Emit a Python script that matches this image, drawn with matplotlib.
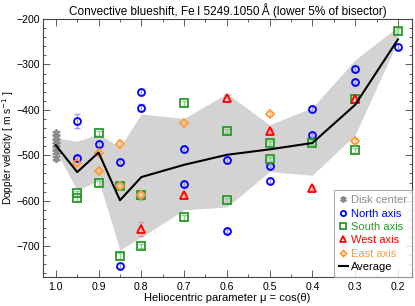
import matplotlib
matplotlib.use("Agg")
import matplotlib.pyplot as plt
from matplotlib.ticker import MultipleLocator
import numpy as np

plt.rcParams['font.family'] = ['Liberation Sans', 'DejaVu Sans']

# Disk center
mu_dc = [1.0, 1.0, 1.0, 1.0, 1.0, 1.0, 1.0]
v_dc = [-452, -460, -468, -476, -484, -492, -507]
e_dc = [6, 6, 6, 6, 6, 6, 6]

# North axis
mu_n = [0.95, 0.95, 0.9, 0.85, 0.85, 0.8, 0.8, 0.7, 0.7, 0.6, 0.6, 0.5, 0.5, 0.4, 0.4, 0.3, 0.3, 0.2]
v_n = [-424, -507, -475, -514, -743, -361, -395, -487, -564, -511, -667, -524, -556, -398, -455, -309, -339, -261]
e_n = [15, 6, 6, 6, 6, 6, 8, 5, 6, 5, 5, 5, 5, 6, 5, 5, 5, 5]

# South axis
mu_s = [0.95, 0.95, 0.9, 0.9, 0.85, 0.85, 0.8, 0.8, 0.7, 0.7, 0.6, 0.6, 0.5, 0.5, 0.4, 0.3, 0.3, 0.2]
v_s = [-584, -595, -452, -562, -567, -722, -588, -700, -386, -637, -447, -599, -474, -509, -472, -377, -489, -226]
e_s = [6, 6, 6, 6, 7, 7, 10, 5, 5, 5, 5, 5, 5, 5, 5, 8, 5, 6]

# West axis
mu_w = [0.8, 0.7, 0.6, 0.5, 0.4, 0.3]
v_w = [-662, -588, -375, -447, -572, -377]
e_w = [15, 5, 8, 5, 5, 8]

# East axis
mu_e = [0.95, 0.9, 0.9, 0.85, 0.85, 0.8, 0.7, 0.5, 0.3]
v_e = [-518, -494, -535, -475, -567, -588, -428, -409, -469]
e_e = [5, 5, 5, 8, 5, 5, 5, 5, 5]

# Average and band
mu_avg = [1.0, 0.95, 0.9, 0.85, 0.8, 0.7, 0.6, 0.5, 0.4, 0.3, 0.2]
v_avg = [-478, -537, -494, -599, -548, -521, -499, -487, -473, -389, -245]
band_hi = [-462, -469, -453, -482, -409, -419, -364, -433, -395, -290, -217]
band_lo = [-490, -577, -555, -709, -680, -620, -614, -536, -544, -455, -248]

fig = plt.figure(figsize=(4.15, 3.06), dpi=100)
ax = fig.add_axes([0.1036, 0.0948, 0.8892, 0.8431])

ax.fill_between(mu_avg, band_lo, band_hi, color='#d3d3d3', lw=0, zorder=1)

def series(mu, v, e, col, ecol, marker, ms, label):
    ax.errorbar(mu, v, yerr=e, fmt='none', ecolor=ecol, elinewidth=1.0,
                capsize=2.5, capthick=1.0, zorder=2)
    return ax.plot(mu, v, linestyle='none', marker=marker, ms=ms, mfc='none',
                   mec=col, mew=1.3, zorder=3, label=label)[0]

h_dc = series(mu_dc, v_dc, e_dc, '#8c8c8c', '#b8b8b8', (6, 2, 0), 6, 'Disk center')
h_n = series(mu_n, v_n, e_n, '#0000ff', '#9a9aff', 'o', 5, 'North axis')
h_s = series(mu_s, v_s, e_s, '#2a9a2a', '#8fcf8f', 's', 5.8, 'South axis')
h_w = series(mu_w, v_w, e_w, '#ff0000', '#ff9090', '^', 5.8, 'West axis')
h_e = series(mu_e, v_e, e_e, '#ff9933', '#ffc890', 'D', 4, 'East axis')
h_a, = ax.plot(mu_avg, v_avg, color='black', lw=1.5, zorder=4, label='Average')

ax.set_xlim(1.03, 0.167)
ax.set_ylim(-768, -200)
ax.xaxis.set_major_locator(MultipleLocator(0.1))
ax.xaxis.set_minor_locator(MultipleLocator(0.05))
ax.yaxis.set_major_locator(MultipleLocator(100))
ax.yaxis.set_minor_locator(MultipleLocator(20))
ax.set_xticks([1.0, 0.9, 0.8, 0.7, 0.6, 0.5, 0.4, 0.3, 0.2])
ax.set_xticklabels(['1.0', '0.9', '0.8', '0.7', '0.6', '0.5', '0.4', '0.3', '0.2'])
ax.tick_params(which='both', direction='in', top=True, right=True, labelsize=7.6, width=0.6, color='#444444')
ax.tick_params(axis='y', which='both', pad=2)
ax.tick_params(which='major', length=5)
ax.tick_params(which='minor', length=2.5)
for s in ax.spines.values():
    s.set_linewidth(0.8)
    s.set_color('#444444')

ax.set_xlabel('Heliocentric parameter \u03bc = cos(\u03b8)', fontsize=8, labelpad=1)
ax.set_ylabel('Doppler velocity [ m s$^{-1}$ ]', fontsize=7.3)
ax.yaxis.set_label_coords(-0.073, 0.5)
ax.set_title('Convective blueshift, Fe\u2009I 5249.1050\u2009\u00c5 (lower 5% of bisector)', fontsize=8.5, pad=3)

leg = ax.legend(handles=[h_dc, h_n, h_s, h_w, h_e, h_a], loc='lower right',
                fontsize=8, frameon=True, fancybox=False, borderaxespad=0,
                handlelength=0.8, handletextpad=0.3, labelspacing=0.3,
                borderpad=0.45, markerscale=0.75)
leg.get_frame().set_edgecolor('#999999')
leg.get_frame().set_linewidth(0.8)
for t, c in zip(leg.get_texts(), ['#8c8c8c', '#0000ff', '#2a9a2a', '#ff0000', '#ff9933', 'black']):
    t.set_color(c)

fig.savefig('out.png', dpi=100)
